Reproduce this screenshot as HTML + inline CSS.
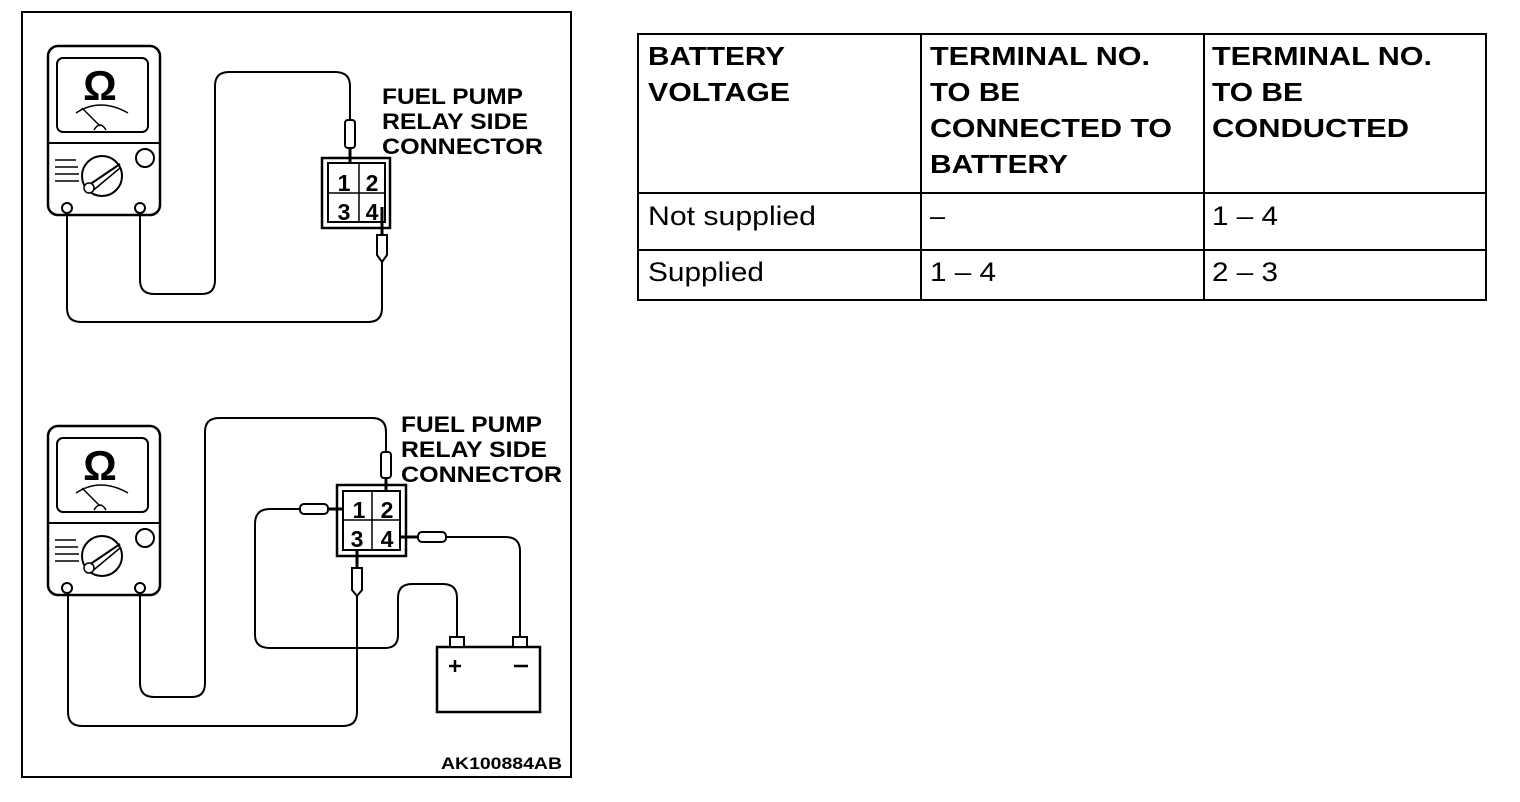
<!DOCTYPE html>
<html><head><style>
html,body{margin:0;padding:0;background:#fff;}
svg{display:block;}
</style></head><body>
<svg width="1520" height="802" viewBox="0 0 1520 802" xmlns="http://www.w3.org/2000/svg">
<defs>
<g id="meter">
  <rect x="48" y="46" width="112" height="169" rx="10" fill="#fff" stroke="#000" stroke-width="2.5"/>
  <rect x="57" y="58" width="91" height="74" rx="6" fill="#fff" stroke="#000" stroke-width="2"/>
  <line x1="48" y1="143" x2="160" y2="143" stroke="#000" stroke-width="2"/>
  <text x="100" y="100" font-family="Liberation Sans, sans-serif" font-weight="bold" font-size="42" text-anchor="middle">Ω</text>
  <path d="M76 113 Q100 97 128 113" fill="none" stroke="#000" stroke-width="1.5"/>
  <line x1="82" y1="108" x2="100" y2="126" stroke="#000" stroke-width="1.5"/>
  <path d="M94 130 Q100 120 106 130" fill="none" stroke="#000" stroke-width="1.5"/>
  <circle cx="102" cy="176" r="20" fill="none" stroke="#000" stroke-width="2"/>
  <line x1="86" y1="187" x2="120" y2="164" stroke="#000" stroke-width="2"/>
  <line x1="90" y1="193" x2="120" y2="168" stroke="#000" stroke-width="1.5"/>
  <circle cx="89" cy="188" r="5" fill="#fff" stroke="#000" stroke-width="1.5"/>
  <path d="M55 160 H76 M55 167 H78 M55 174 H79 M55 181 H79" stroke="#000" stroke-width="1.5"/>
  <circle cx="145" cy="158" r="9" fill="#fff" stroke="#000" stroke-width="2"/>
  <circle cx="67" cy="208" r="5" fill="#fff" stroke="#000" stroke-width="2"/>
  <circle cx="140" cy="208" r="5" fill="#fff" stroke="#000" stroke-width="2"/>
</g>
</defs>
<rect x="22" y="12" width="549" height="765" fill="none" stroke="#000" stroke-width="2"/>

<!-- TOP -->
<use href="#meter"/>
<g fill="none" stroke="#000" stroke-width="2">
  <path d="M140 213 V280 Q140 294 154 294 H202 Q215 294 215 280 V86 Q215 72 229 72 H335 Q350 72 350 86 V120"/>
  <path d="M67 213 V308 Q67 322 81 322 H368 Q382 322 382 308 V262"/>
</g>
<rect x="345" y="120" width="10" height="28" rx="3" fill="#fff" stroke="#000" stroke-width="2"/>
<line x1="350" y1="148" x2="350" y2="168" stroke="#000" stroke-width="3"/>
<path d="M377 235 H387 V255 L382 262 L377 255 Z" fill="#fff" stroke="#000" stroke-width="2"/>
<line x1="382" y1="222" x2="382" y2="235" stroke="#000" stroke-width="3"/>
<rect x="322" y="158" width="68" height="70" fill="none" stroke="#000" stroke-width="2.5"/>
<rect x="328" y="163" width="57" height="59" fill="#fff" stroke="#000" stroke-width="2"/>
<line x1="359" y1="163" x2="359" y2="222" stroke="#000" stroke-width="1.5"/>
<line x1="328" y1="193" x2="385" y2="193" stroke="#000" stroke-width="1.5"/>
<g font-family="Liberation Sans, sans-serif" font-size="23" text-anchor="middle" font-weight="bold">
<text x="344" y="191">1</text><text x="372" y="191">2</text>
<text x="344" y="220">3</text><text x="372" y="220">4</text>
</g>
<line x1="382" y1="207" x2="382" y2="222" stroke="#000" stroke-width="3"/>
<g font-family="Liberation Sans, sans-serif" font-size="22" font-weight="bold" lengthAdjust="spacingAndGlyphs">
<text x="382" y="104" textLength="141" lengthAdjust="spacingAndGlyphs">FUEL PUMP</text>
<text x="382" y="129" textLength="146" lengthAdjust="spacingAndGlyphs">RELAY SIDE</text>
<text x="382" y="154" textLength="161" lengthAdjust="spacingAndGlyphs">CONNECTOR</text>
</g>

<!-- BOTTOM -->
<use href="#meter" transform="translate(0,380)"/>
<g fill="none" stroke="#000" stroke-width="2">
  <path d="M140 593 V683 Q140 697 154 697 H192 Q205 697 205 683 V432 Q205 418 219 418 H372 Q386 418 386 432 V452"/>
  <path d="M68 593 V712 Q68 726 82 726 H343 Q357 726 357 712 V596"/>
  <path d="M305 509 H270 Q255 509 255 524 V635 Q255 648 270 648 H385 Q398 648 398 635 V598 Q398 584 412 584 H443 Q457 584 457 598 V636"/>
  <path d="M443 537 H505 Q520 537 520 551 V636"/>
</g>
<rect x="381" y="452" width="10" height="26" rx="3" fill="#fff" stroke="#000" stroke-width="2"/>
<line x1="386" y1="478" x2="386" y2="498" stroke="#000" stroke-width="3"/>
<rect x="300" y="504" width="28" height="10" rx="4" fill="#fff" stroke="#000" stroke-width="2"/>
<line x1="328" y1="509" x2="347" y2="509" stroke="#000" stroke-width="3"/>
<rect x="418" y="532" width="28" height="10" rx="4" fill="#fff" stroke="#000" stroke-width="2"/>
<line x1="398" y1="537" x2="418" y2="537" stroke="#000" stroke-width="3"/>
<path d="M352 568 H362 V590 L357 596 L352 590 Z" fill="#fff" stroke="#000" stroke-width="2"/>
<line x1="357" y1="540" x2="357" y2="568" stroke="#000" stroke-width="3"/>
<rect x="337" y="485" width="69" height="71" fill="none" stroke="#000" stroke-width="2.5"/>
<rect x="343" y="491" width="57" height="59" fill="#fff" stroke="#000" stroke-width="2"/>
<line x1="372" y1="491" x2="372" y2="550" stroke="#000" stroke-width="1.5"/>
<line x1="343" y1="520" x2="400" y2="520" stroke="#000" stroke-width="1.5"/>
<g font-family="Liberation Sans, sans-serif" font-size="23" text-anchor="middle" font-weight="bold">
<text x="359" y="518">1</text><text x="387" y="518">2</text>
<text x="357" y="547">3</text><text x="387" y="547">4</text>
</g>
<rect x="437" y="647" width="103" height="65" fill="#fff" stroke="#000" stroke-width="2.5"/>
<rect x="450" y="637" width="14" height="10" fill="#fff" stroke="#000" stroke-width="2"/>
<rect x="513" y="637" width="14" height="10" fill="#fff" stroke="#000" stroke-width="2"/>
<path d="M449 666 H461 M455 660 V672 M514 666 H528" stroke="#000" stroke-width="2.5"/>
<g font-family="Liberation Sans, sans-serif" font-size="22" font-weight="bold">
<text x="401" y="432" textLength="141" lengthAdjust="spacingAndGlyphs">FUEL PUMP</text>
<text x="401" y="457" textLength="146" lengthAdjust="spacingAndGlyphs">RELAY SIDE</text>
<text x="401" y="482" textLength="161" lengthAdjust="spacingAndGlyphs">CONNECTOR</text>
</g>
<text x="441" y="769" font-family="Liberation Sans, sans-serif" font-size="17" font-weight="bold" textLength="121" lengthAdjust="spacingAndGlyphs">AK100884AB</text>

<!-- TABLE -->
<g fill="none" stroke="#000" stroke-width="2">
<rect x="638" y="34" width="848" height="266"/>
<line x1="638" y1="193" x2="1486" y2="193"/>
<line x1="638" y1="250" x2="1486" y2="250"/>
<line x1="921" y1="34" x2="921" y2="300"/>
<line x1="1204" y1="34" x2="1204" y2="300"/>
</g>
<g font-family="Liberation Sans, sans-serif" font-size="26" font-weight="bold">
<text x="648" y="65" textLength="137" lengthAdjust="spacingAndGlyphs">BATTERY</text>
<text x="648" y="101" textLength="142" lengthAdjust="spacingAndGlyphs">VOLTAGE</text>
<text x="930" y="65" textLength="220" lengthAdjust="spacingAndGlyphs">TERMINAL NO.</text>
<text x="930" y="101" textLength="90" lengthAdjust="spacingAndGlyphs">TO BE</text>
<text x="930" y="137" textLength="242" lengthAdjust="spacingAndGlyphs">CONNECTED TO</text>
<text x="930" y="173" textLength="138" lengthAdjust="spacingAndGlyphs">BATTERY</text>
<text x="1212" y="65" textLength="220" lengthAdjust="spacingAndGlyphs">TERMINAL NO.</text>
<text x="1212" y="101" textLength="91" lengthAdjust="spacingAndGlyphs">TO BE</text>
<text x="1212" y="137" textLength="197" lengthAdjust="spacingAndGlyphs">CONDUCTED</text>
</g>
<g font-family="Liberation Sans, sans-serif" font-size="27">
<text x="648" y="225" textLength="168" lengthAdjust="spacingAndGlyphs">Not supplied</text>
<text x="930" y="225">–</text>
<text x="1212" y="225" textLength="66" lengthAdjust="spacingAndGlyphs">1 – 4</text>
<text x="648" y="281" textLength="116" lengthAdjust="spacingAndGlyphs">Supplied</text>
<text x="930" y="281" textLength="66" lengthAdjust="spacingAndGlyphs">1 – 4</text>
<text x="1212" y="281" textLength="66" lengthAdjust="spacingAndGlyphs">2 – 3</text>
</g>
</svg>
</body></html>
